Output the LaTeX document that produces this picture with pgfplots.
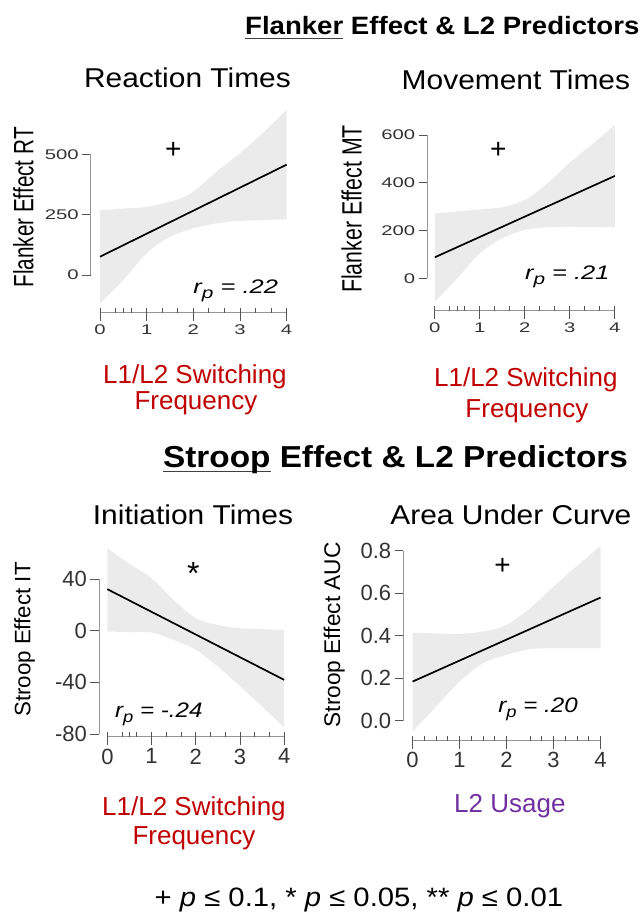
\documentclass[border=0pt]{standalone}
\usepackage{pgfplots}
\pgfplotsset{compat=1.18}
\usepgfplotslibrary{fillbetween}
\usepackage{fontspec}
\setmainfont{Liberation Sans}
\newfontfamily\pf[FakeStretch=1.1]{Liberation Sans}
\newcommand\fs[1]{\fontsize{#1}{#1}\selectfont}
\newcommand\ul[1]{\setbox0\hbox{#1}\rlap{\color{black!75}\rule[-4.5pt]{\wd0}{1.6pt}}\box0}
\newcommand\rp[1]{{\itshape r\raisebox{-5pt}{\fs{16}p} = #1}}
\definecolor{redlab}{HTML}{C00000}
\definecolor{purplab}{HTML}{7030A0}
\definecolor{bandgray}{RGB}{235,235,235}
\definecolor{axgray}{RGB}{150,150,150}
\definecolor{tickgray}{RGB}{85,85,85}
\tikzset{axl/.style={axgray, line width=0.9pt}}
\pgfplotsset{
 rplot/.style={scale only axis, clip=false,
   axis x line*=bottom, axis y line*=left,
   axis line style={draw=none},
   tick align=outside, major tick length=8.5pt,
   tick style={tickgray, line width=0.8pt},
   xtick={0,1,2,3,4}, minor tick num=0,
   /pgf/number format/assume math mode=true,
   tick label style={text=black!80},
 },
 toprow/.style={rplot,
   xticklabel={\scalebox{1.45}[1]{\fs{14}\pgfmathprintnumber{\tick}}},
   yticklabel={\scalebox{1.45}[1]{\fs{14}\pgfmathprintnumber{\tick}}},
 },
 botrow/.style={rplot,
   tick label style={font=\fs{22}},
 },
 rug/.style={only marks, mark=|, mark size=2.5pt,
   mark options={yshift=2.5pt, draw=tickgray, line width=0.8pt}},
 band/.style={draw=none, smooth, tension=0.5},
 myfit/.style={black, line width=1.7pt},
}
\begin{document}
\begin{tikzpicture}[x=1pt,y=1pt]
\path (0,0) rectangle (643,-912);

% ---------------- Panel 1: Flanker RT ----------------
\begin{axis}[toprow, at={(90.7pt,-312.7pt)}, anchor=south west,
  width=196pt, height=206.7pt, xmin=-0.2, xmax=4, ymin=-156, ymax=700,
  ytick={0,250,500}]
\addplot[band, name path=U] coordinates {(0,268) (0.5,275) (1,282) (1.5,303) (1.75,320) (2,345) (2.5,428) (3,504) (3.5,590) (4,684)};
\addplot[band, name path=L] coordinates {(0,-117) (0.5,-21) (1,90) (1.5,158) (2,193) (2.5,214) (3,224) (4,230)};
\addplot[bandgray] fill between[of=U and L];
\addplot[myfit] coordinates {(0,75.6) (4,457)};
\draw[axl] (axis cs:0,-156) -- (axis cs:4,-156);
\draw[axl] (axis cs:-0.2,0) -- (axis cs:-0.2,500);
\addplot[rug] coordinates {(0,-156) (0.333,-156) (0.5,-156) (0.667,-156) (1,-156) (1.333,-156) (1.667,-156) (2,-156) (2.333,-156) (2.667,-156) (3,-156) (3.333,-156) (3.667,-156) (4,-156)};
\end{axis}

% ---------------- Panel 2: Flanker MT ----------------
\begin{axis}[toprow, at={(427.3pt,-311pt)}, anchor=south west,
  width=187.7pt, height=190.1pt, xmin=-0.17, xmax=4, ymin=-137, ymax=660,
  ytick={0,200,400,600}]
\addplot[band, name path=U] coordinates {(0,272) (0.5,280) (1,289) (1.5,298) (2,328) (2.5,398) (3,485) (3.5,563) (4,643)};
\addplot[band, name path=L] coordinates {(0,-98) (0.5,0) (1,105) (1.5,168) (2,203) (2.5,214) (3,216) (4,214)};
\addplot[bandgray] fill between[of=U and L];
\addplot[myfit] coordinates {(0,88) (4,429)};
\draw[axl] (axis cs:0,-137) -- (axis cs:4,-137);
\draw[axl] (axis cs:-0.17,0) -- (axis cs:-0.17,600);
\addplot[rug] coordinates {(0,-137) (0.333,-137) (0.5,-137) (0.667,-137) (1,-137) (1.333,-137) (1.667,-137) (2,-137) (2.333,-137) (2.667,-137) (3,-137) (3.333,-137) (3.667,-137) (4,-137)};
\end{axis}

% ---------------- Panel 3: Stroop IT ----------------
\begin{axis}[botrow, at={(99pt,-737pt)}, anchor=south west,
  width=185.2pt, height=196.3pt, xmin=-0.19, xmax=4, ymin=-82.2, ymax=70,
  ytick={-80,-40,0,40}]
\addplot[band, name path=U] coordinates {(0,64) (0.5,52) (1,40.8) (1.5,24) (2,9.8) (2.5,4.6) (3,2) (4,0.8)};
\addplot[band, name path=L] coordinates {(0,-0.5) (0.5,-1) (1,-1.3) (1.5,-7) (2,-14.7) (2.5,-27.7) (3,-43) (3.5,-58.7) (4,-75)};
\addplot[bandgray] fill between[of=U and L];
\addplot[myfit] coordinates {(0,32.3) (4,-38)};
\draw[axl] (axis cs:0,-82.2) -- (axis cs:4,-82.2);
\draw[axl] (axis cs:-0.19,-80) -- (axis cs:-0.19,40);
\addplot[rug] coordinates {(0,-82.2) (0.333,-82.2) (0.5,-82.2) (0.667,-82.2) (1,-82.2) (1.333,-82.2) (1.667,-82.2) (2,-82.2) (2.333,-82.2) (2.667,-82.2) (3,-82.2) (3.333,-82.2) (3.667,-82.2) (4,-82.2)};
\end{axis}

% ---------------- Panel 4: Stroop AUC ----------------
\begin{axis}[botrow, at={(403.3pt,-740.7pt)}, anchor=south west,
  width=197.4pt, height=200.6pt, xmin=-0.2, xmax=4, ymin=-0.094, ymax=0.85,
  ytick={0,0.2,0.4,0.6,0.8},
  yticklabel style={/pgf/number format/.cd, fixed, fixed zerofill, precision=1}]
\addplot[band, name path=U] coordinates {(0,0.414) (0.5,0.41) (1,0.408) (1.5,0.419) (2,0.45) (2.5,0.529) (3,0.631) (3.5,0.728) (4,0.822)};
\addplot[band, name path=L] coordinates {(0,-0.052) (0.5,0.066) (1,0.184) (1.5,0.27) (2,0.309) (2.5,0.336) (3,0.341) (4,0.341)};
\addplot[bandgray] fill between[of=U and L];
\addplot[myfit] coordinates {(0,0.1835) (4,0.579)};
\draw[axl] (axis cs:0,-0.094) -- (axis cs:4,-0.094);
\draw[axl] (axis cs:-0.2,0) -- (axis cs:-0.2,0.8);
\addplot[rug] coordinates {(0,-0.094) (0.25,-0.094) (0.5,-0.094) (0.75,-0.094) (1,-0.094) (1.25,-0.094) (1.5,-0.094) (1.75,-0.094) (2,-0.094) (2.5,-0.094) (2.75,-0.094) (3,-0.094) (3.25,-0.094) (3.5,-0.094) (3.75,-0.094) (4,-0.094)};
\end{axis}

% ---------------- Headers and titles ----------------
\node[anchor=base west, inner sep=0] at (245,-35) {\pf\bfseries\fs{25.1}\ul{Flanker}\ Effect \& L2 Predictors};
\node[anchor=base west, inner sep=0] at (163,-468) {\pf\bfseries\fs{30.3}\ul{Stroop}\ Effect \& L2 Predictors};
\node[anchor=base, inner sep=0] at (187.5,-87.7) {\pf\fs{27.2}Reaction Times};
\node[anchor=base, inner sep=0] at (516,-90) {\pf\fs{27.2}Movement Times};
\node[anchor=base, inner sep=0] at (193,-525) {\pf\fs{27.2}Initiation Times};
\node[anchor=base, inner sep=0] at (511,-525) {\pf\fs{27.2}Area Under Curve};

% ---------------- Axis labels ----------------
\node[anchor=base, inner sep=0, rotate=90] at (33.3,-207.5) {\scalebox{1}[1.35]{\fs{20.7}Flanker Effect RT}};
\node[anchor=base, inner sep=0, rotate=90] at (361.7,-209) {\scalebox{1}[1.31]{\fs{21.3}Flanker Effect MT}};
\node[anchor=base, inner sep=0, rotate=90] at (30.3,-639.7) {\fs{22.3}Stroop Effect IT};
\node[anchor=base, inner sep=0, rotate=90] at (340.2,-635) {\fs{22.7}Stroop Effect AUC};

\node[anchor=base, inner sep=0, text=redlab] at (195,-383.3) {\fs{26}L1/L2 Switching};
\node[anchor=base, inner sep=0, text=redlab] at (196,-410) {\fs{26}Frequency};
\node[anchor=base, inner sep=0, text=redlab] at (526,-386.7) {\fs{26}L1/L2 Switching};
\node[anchor=base, inner sep=0, text=redlab] at (527,-418) {\fs{26}Frequency};
\node[anchor=base, inner sep=0, text=redlab] at (194,-816) {\fs{26}L1/L2 Switching};
\node[anchor=base, inner sep=0, text=redlab] at (194,-845) {\fs{26}Frequency};
\node[anchor=base, inner sep=0, text=purplab] at (510,-813) {\fs{26}L2 Usage};

% ---------------- Annotations ----------------
\node[inner sep=0] at (173.3,-150) {\fs{28}+};
\node[inner sep=0] at (498.3,-150) {\fs{28}+};
\node[inner sep=0] at (193.3,-574) {\fs{32}*};
\node[inner sep=0] at (502.7,-566.7) {\fs{28}+};
\node[anchor=base west, inner sep=0] at (193.3,-293.3) {\scalebox{1.3}[1]{\fs{19.6}\rp{.22}}};
\node[anchor=base west, inner sep=0] at (525,-279.3) {\scalebox{1.3}[1]{\fs{19.6}\rp{.21}}};
\node[anchor=base west, inner sep=0] at (115,-717.3) {\scalebox{1.15}[1]{\fs{21}\rp{-.24}}};
\node[anchor=base west, inner sep=0] at (498.3,-712.7) {\scalebox{1.15}[1]{\fs{21}\rp{.20}}};

% ---------------- Footer ----------------
\node[anchor=base, inner sep=0] at (359,-906.7) {\pf\fs{26.6}+ \textit{p} ≤ 0.1, * \textit{p} ≤ 0.05, ** \textit{p} ≤ 0.01};
\end{tikzpicture}
\end{document}
